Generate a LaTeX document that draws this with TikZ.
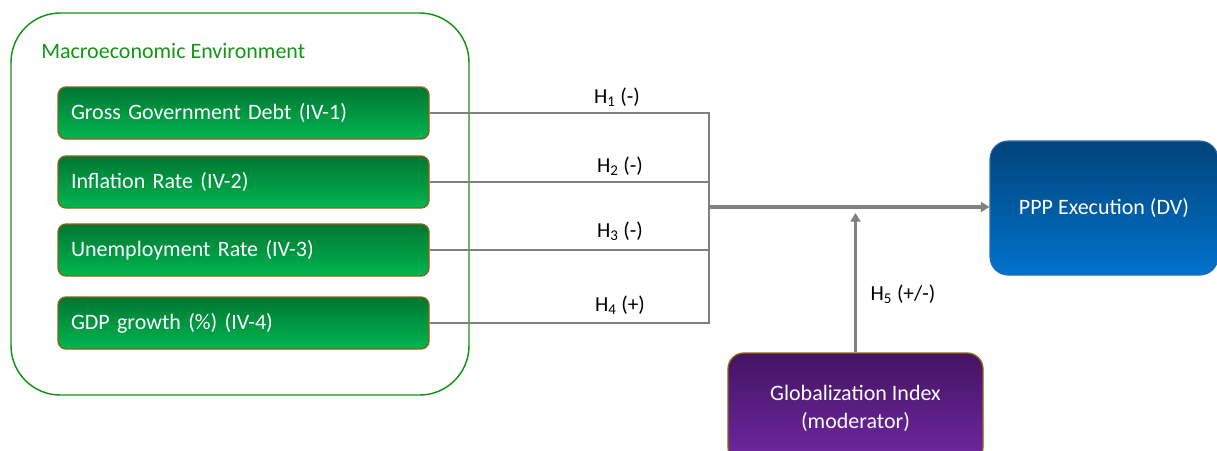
\documentclass[tikz,border=0pt]{standalone}
\usepackage{fontspec}
\setmainfont{Carlito}
\usetikzlibrary{arrows.meta}
\definecolor{envgreen}{RGB}{20,150,20}
\definecolor{ivtop}{RGB}{0,118,50}
\definecolor{ivbot}{RGB}{0,182,80}
\definecolor{ivborder}{RGB}{140,100,20}
\definecolor{linegray}{RGB}{128,128,128}
\definecolor{dvtop}{RGB}{0,68,122}
\definecolor{dvbot}{RGB}{0,114,204}
\definecolor{dvborder}{RGB}{40,110,180}
\definecolor{gltop}{RGB}{68,20,98}
\definecolor{glbot}{RGB}{112,40,162}
\tikzset{
  px/.style={x=0.75pt,y=-0.75pt},
  bigfont/.style={font=\fontsize{16.5}{20}\selectfont},
  ivbox/.style={draw=ivborder, line width=1pt, rounded corners=6pt,
    top color=ivtop, bottom color=ivbot, text=white, bigfont,
    minimum width=278.25pt, minimum height=39pt, text width=258.75pt, inner xsep=9.75pt,
    inner ysep=0pt, align=left},
  conn/.style={draw=linegray, line width=1.6pt},
  arr/.style={draw=linegray, -{Triangle[width=7.5pt,length=6.5pt]}},
  hlabel/.style={font=\fontsize{16}{19}\selectfont, text=black, inner sep=0pt}
}
\begin{document}
\begin{tikzpicture}[px]
\clip (0,0) rectangle (1217,450);
\fill[white] (0,0) rectangle (1217,450);
% environment container
\node[draw=envgreen, line width=1.1pt, rounded corners=37pt, minimum width=343.5pt, minimum height=286.5pt] (env) at (240,204) {};
\node[anchor=west, text=envgreen, bigfont, inner sep=0pt] (envlbl) at (41,51) {Macroeconomic Environment};
% IV boxes
\node[ivbox] (iv1) at (243.5,113) {Gross Government Debt (IV-1)};
\node[ivbox] (iv2) at (243.5,182) {Inflation Rate (IV-2)};
\node[ivbox] (iv3) at (243.5,250) {Unemployment Rate (IV-3)};
\node[ivbox] (iv4) at (243.5,323) {GDP growth (\%) (IV-4)};
% DV
\node[draw=dvborder, line width=0.8pt, rounded corners=13.5pt, top color=dvtop, bottom color=dvbot,
  text=white, bigfont, minimum width=171pt, minimum height=100.5pt] (dv) at (1104,208) {PPP Execution (DV)};
% moderator
\node[draw=ivborder, line width=1pt, rounded corners=12pt, top color=gltop, bottom color=glbot,
  text=white, font=\fontsize{16.5}{21}\selectfont, align=center, minimum width=191.25pt, minimum height=82.5pt] (glob) at (855.5,408) {Globalization Index\\(moderator)};
% connectors
\coordinate (J) at (709,207);
\coordinate (M) at (855.5,207);
\draw[conn] (iv1.east) -| (J);
\draw[conn] (iv2.east) -| (J);
\draw[conn] (iv3.east) -| (J);
\draw[conn] (iv4.east) -| (J);
\draw[arr, line width=2.4pt] (J) -- (J -| dv.west);
\draw[arr, line width=1.8pt] (glob.north) -- ([yshift=-4.5pt]M);
% labels
\node[hlabel] (h1) at (617,97) {H\textsubscript{1} (-)};
\node[hlabel] (h2) at (620,166) {H\textsubscript{2} (-)};
\node[hlabel] (h3) at (620,231) {H\textsubscript{3} (-)};
\node[hlabel] (h4) at (620,305) {H\textsubscript{4} (+)};
\node[hlabel] (h5) at (903,294) {H\textsubscript{5} (+/-)};
\end{tikzpicture}
\end{document}
